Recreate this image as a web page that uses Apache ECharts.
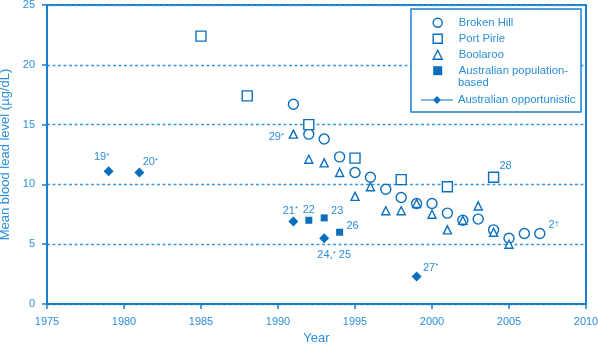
<!DOCTYPE html>
<html>
<head>
<meta charset="utf-8">
<script src="https://cdn.jsdelivr.net/npm/echarts@6/dist/echarts.min.js"></script>
<style>
  html, body { margin: 0; padding: 0; background: #fff; }
  #chart { width: 598px; height: 344px; }
</style>
</head>
<body>
<div id="chart"></div>
<script>
// [year, mean blood lead level in ug/dL]
var brokenHill = [
    [1991, 16.7], [1992, 14.2], [1993, 13.8], [1994, 12.3], [1995, 11.0], [1996, 10.6],
    [1997, 9.6], [1998, 8.9], [1999, 8.4], [2000, 8.4], [2001, 7.6], [2002, 7.0],
    [2003, 7.1], [2004, 6.2], [2005, 5.5], [2006, 5.9], [2007, 5.9]
];
var portPirie = [
    [1985, 22.4], [1988, 17.4], [1992, 15.0], [1995, 12.2], [1998, 10.4], [2001, 9.8], [2004, 10.6]
];
var boolaroo = [
    [1991, 14.2], [1992, 12.1], [1993, 11.8], [1994, 11.0], [1995, 9.0], [1996, 9.8],
    [1997, 7.8], [1998, 7.8], [1999, 8.4], [2000, 7.5], [2001, 6.2], [2002, 7.0],
    [2003, 8.2], [2004, 6.0], [2005, 5.0]
];
var populationBased = [[1992, 7.0], [1993, 7.2], [1994, 6.0]];
var opportunistic = [[1979, 11.1], [1981, 11.0], [1991, 6.9], [1993, 5.5], [1999, 2.3]];

// reference numbers next to points (by year)
var brokenHillNotes = { 2007: '2†' };
var portPirieNotes = { 2004: '28' };
var boolarooNotes = { 1991: '29*' };
var populationNotes = { 1992: '22', 1993: '23', 1994: '26' };
var opportunisticNotes = { 1979: '19*', 1981: '20*', 1991: '21*', 1993: '24,* 25', 1999: '27*' };

var seriesNames = ['Broken Hill', 'Port Pirie', 'Boolaroo', 'Australian population-based', 'Australian opportunistic'];
var xTicks = { min: 1975, max: 2010, step: 5 };
var yTicks = { min: 0, max: 25, step: 5 };

// where each note sits relative to its point (px)
var noteOffsets = {
    '19*': [-7, -14], '20*': [11, -10], '21*': [-3, -11], '22': [0, -10], '23': [13, -7],
    '26': [13, -6], '24,* 25': [10, 17], '27*': [14, -9], '28': [12, -11], '2†': [14, -8], '29*': [-17, 3]
};

var markBlue = '#0c6fbe';
var axisBlue = '#1b7fce';
var textBlue = '#2a8fd8';
var font = '"Liberation Sans", Arial, sans-serif';

function withNotes(points, notes) {
    return points.map(function (p) {
        var note = notes[p[0]];
        if (!note) return p;
        return {
            value: p,
            label: { show: true, formatter: note.replace(/([*†])/g, '{sup|$1}'), offset: noteOffsets[note] }
        };
    });
}

function scatter(name, data, symbol, size, hollow) {
    return {
        name: name,
        type: 'scatter',
        data: data,
        symbol: symbol,
        symbolSize: size,
        itemStyle: hollow
            ? { color: '#fff', borderColor: markBlue, borderWidth: 1.4, opacity: 1 }
            : { color: markBlue, borderWidth: 0, opacity: 1 },
        label: {
            show: false,
            position: 'inside',
            color: textBlue,
            fontSize: 11,
            fontFamily: font,
            rich: { sup: { fontSize: 8, verticalAlign: 'top', color: textBlue, fontFamily: font } }
        },
        emphasis: { disabled: true }
    };
}

var legendBase = {
    orient: 'vertical',
    itemGap: 4,
    padding: 0,
    selectedMode: false,
    symbolKeepAspect: true,
    itemStyle: { borderWidth: 'inherit' }
};

var chart = echarts.init(document.getElementById('chart'));
chart.setOption({
    animation: false,
    textStyle: { fontFamily: font },
    grid: {
        left: 47, right: 12, top: 5, bottom: 40,
        outerBoundsMode: 'none',
        show: true, borderColor: axisBlue, borderWidth: 2
    },
    xAxis: {
        type: 'value',
        min: xTicks.min, max: xTicks.max, interval: xTicks.step,
        name: 'Year', nameLocation: 'middle', nameGap: 28,
        nameTextStyle: { color: textBlue, fontSize: 13 },
        axisLine: { lineStyle: { color: axisBlue, width: 2 } },
        axisTick: { length: 5, lineStyle: { color: axisBlue, width: 1.5 } },
        axisLabel: { color: textBlue, fontSize: 11, margin: 12, formatter: function (v) { return String(v); } },
        splitLine: { show: false }
    },
    yAxis: {
        type: 'value',
        min: yTicks.min, max: yTicks.max, interval: yTicks.step,
        name: 'Mean blood lead level (µg/dL)', nameLocation: 'middle', nameGap: 34,
        nameTextStyle: { color: textBlue, fontSize: 13 },
        axisLine: { lineStyle: { color: axisBlue, width: 2 } },
        axisTick: { length: 5, lineStyle: { color: axisBlue, width: 1.5 } },
        axisLabel: { color: textBlue, fontSize: 11, margin: 12 },
        splitLine: { show: true, lineStyle: { color: '#3b97d9', width: 1.3, type: [3, 2.5] } }
    },
    legend: [
        Object.assign({}, legendBase, {
            left: 432.5,
            top: 16.7,
            itemWidth: 9,
            itemHeight: 9,
            textStyle: { color: textBlue, fontSize: 11.3, lineHeight: 12, fontFamily: font, padding: [0, 0, 0, 11.5] },
            data: seriesNames.slice(0, 4),
            formatter: function (n) { return n === 'Australian population-based' ? 'Australian population-' : n; }
        }),
        Object.assign({}, legendBase, {
            left: 421,
            top: 94,
            itemWidth: 32,
            itemHeight: 8,
            textStyle: { color: textBlue, fontSize: 11.3, lineHeight: 12, fontFamily: font },
            data: [{ name: seriesNames[4], icon: 'path://M0,4.4L32,4.4L32,5.6L0,5.6Z M16,1L20,5L16,9L12,5Z' }]
        })
    ],
    graphic: [
        {
            type: 'rect', z: 3, silent: true,
            shape: { x: 411, y: 9, width: 170, height: 103 },
            style: { fill: '#fff', stroke: axisBlue, lineWidth: 1.5 }
        },
        {
            type: 'text', z: 5, silent: true,
            style: { x: 458, y: 82.7, text: 'based', verticalAlign: 'middle', fill: textBlue, font: '11.3px ' + font }
        }
    ],
    series: [
        scatter(seriesNames[0], withNotes(brokenHill, brokenHillNotes), 'circle', 10, true),
        scatter(seriesNames[1], withNotes(portPirie, portPirieNotes), 'rect', 10, true),
        scatter(seriesNames[2], withNotes(boolaroo, boolarooNotes), 'triangle', 8, true),
        scatter(seriesNames[3], withNotes(populationBased, populationNotes), 'rect', 7, false),
        scatter(seriesNames[4], withNotes(opportunistic, opportunisticNotes), 'diamond', 10, false)
    ]
});
</script>
</body>
</html>
